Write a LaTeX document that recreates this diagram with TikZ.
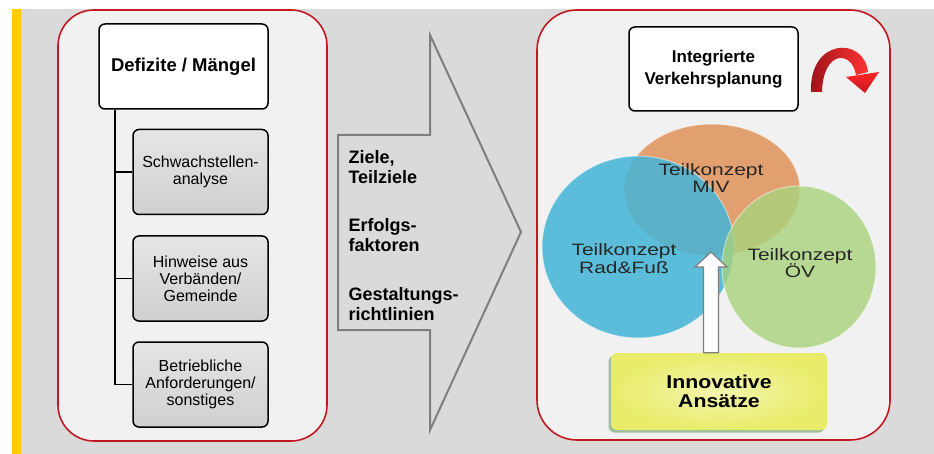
\documentclass[tikz,border=0pt]{standalone}
\usepackage{fontspec}
\setmainfont{Liberation Sans}
\newfontfamily\widefont[FakeStretch=1.27]{Liberation Sans}
\newfontfamily\wideboldfont[FakeStretch=1.15]{Liberation Sans Bold}
\usetikzlibrary{shapes.geometric,shadows}
\definecolor{bggray}{HTML}{DADADA}
\definecolor{yelbar}{HTML}{FFCC00}
\definecolor{pred}{HTML}{C41820}
\definecolor{panelfill}{HTML}{F1F1F1}
\definecolor{gbox}{HTML}{D0D0D0}
\definecolor{ora}{HTML}{E2A070}
\definecolor{blu}{HTML}{43B4D8}
\definecolor{gre}{HTML}{A8D27C}
\definecolor{yel}{HTML}{E8EC6A}
\definecolor{arrgray}{HTML}{7F7F7F}
\begin{document}
\begin{tikzpicture}[x=1pt,y=-1pt,
  panel/.style={draw=pred, line width=1.6pt, fill=panelfill, rounded corners=36pt},
  whitebox/.style={draw=black, line width=1.5pt, fill=white, rounded corners=6pt, align=center},
  graybox/.style={draw=black, line width=1.5pt, top color=gbox!55!white, bottom color=gbox, rounded corners=6pt,
    minimum width=135pt, minimum height=85pt, align=center, font=\fontsize{16}{17}\selectfont},
  midtext/.style={anchor=west, align=left, font=\bfseries\fontsize{18}{20.5}\selectfont},
  circ/.style={ellipse, inner sep=0pt, draw=white, draw opacity=0.5, line width=1pt},
  circtext/.style={align=center, font=\widefont\fontsize{16.5}{17.5}\selectfont, text=black!85},
  tree/.style={draw=black, line width=1.8pt}
]
\useasboundingbox (0,0) rectangle (934,454);
% background
\fill[white] (0,0) rectangle (934,454);
\fill[bggray] (21,9) rectangle (934,454);
\fill[yelbar] (12,9) rectangle (21,454);

% ---------- left panel ----------
\draw[panel] (58,10) rectangle (327,441);
\node[whitebox, minimum width=169pt, minimum height=85pt, font=\bfseries\fontsize{18.5}{21}\selectfont]
  (def) at (183.5,66.5) {Defizite / Mängel};
\node[graybox] (b1) at (200.5,172) {Schwachstellen-\\analyse};
\node[graybox] (b2) at (200.5,278.5) {Hinweise aus\\Verbänden/\\Gemeinde};
\node[graybox] (b3) at (200.5,384.5) {Betriebliche\\Anforderungen/\\sonstiges};
\coordinate (troot) at ([xshift=17pt]def.south west);
\draw[tree] (troot) |- (b3.west);
\draw[tree] (troot) |- (b1.west);
\draw[tree] (troot) |- (b2.west);

% ---------- middle arrow ----------
\draw[draw=arrgray, line width=2pt, fill=bggray, line join=miter]
  (338,135) -- (430,135) -- (430,35) -- (521,232) -- (430,430) -- (430,330) -- (338,330) -- cycle;
\node[midtext] (t1) at (345,167) {Ziele,\\Teilziele};
\node[midtext] (t2) at (345,235) {Erfolgs-\\faktoren};
\node[midtext] (t3) at (345,304) {Gestaltungs-\\richtlinien};

% ---------- right panel ----------
\draw[panel, rounded corners=40pt] (537,10) rectangle (890,440);
\node[whitebox, minimum width=169pt, minimum height=84pt, font=\bfseries\fontsize{17}{21.5}\selectfont]
  (ivp) at (713.5,69) {Integrierte\\Verkehrsplanung};

% red curved arrow
\shade[left color=pred!80!black, right color=red!80!white]
  (811,92) .. controls (809,38) and (864,36) .. (868,72) -- (856,75)
  .. controls (852,50) and (823,50) .. (822,92) -- cycle;
\shade[top color=red!85!white, bottom color=pred]
  (846,77) -- (879,72) -- (865,93) -- cycle;

% ellipses
\node[circ, fill=ora, minimum width=176pt, minimum height=132pt] (miv) at (712,190) {};
\node[circ, fill=blu, fill opacity=0.85, minimum width=192pt, minimum height=182pt] (rad) at (638,247) {};
\node[circ, fill=gre, fill opacity=0.8, minimum width=154pt, minimum height=162pt] (ov) at (799,267) {};
\node[circtext] (tmiv) at (711,178) {Teilkonzept\\MIV};
\node[circtext] (trad) at (624,258.5) {Teilkonzept\\Rad\&Fuß};
\node[circtext] (tov) at (800,263) {Teilkonzept\\ÖV};

% innovative box and white arrow
\node[rounded corners=6pt, inner color=yel!55!white, outer color=yel,
  minimum width=216pt, minimum height=77pt,
  drop shadow={shadow xshift=-2.5pt, shadow yshift=-2.5pt, opacity=0.35, fill=black!60!green},
  align=center, font=\wideboldfont\fontsize{18.5}{18.5}\selectfont, text depth=0pt]
  (inn) at (719,391.5) {Innovative\\Ansätze};
\draw[draw=arrgray, line width=1.2pt, fill=white, line join=miter]
  ([xshift=-7.5pt]inn.north -| 711,0) -- (703.5,267) -- (695,267) -- (711,252) -- (727,267)
  -- (718.5,267) -- ([xshift=7.5pt]inn.north -| 711,0) -- cycle;
\end{tikzpicture}
\end{document}
